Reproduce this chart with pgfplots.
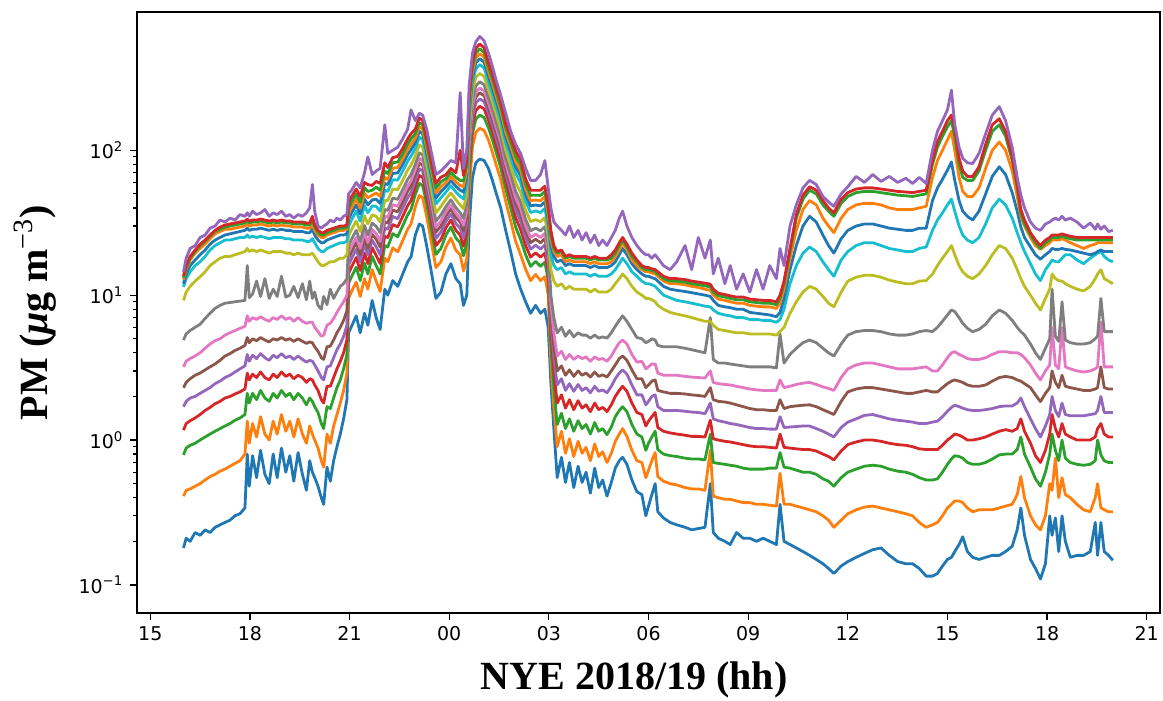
\documentclass[border=0pt]{standalone}
\usepackage{fontspec}
\setmainfont{Liberation Serif}
\newfontfamily\tickfont{DejaVu Sans}
\usepackage{pgfplots}
\usepackage{pgfplotstable}
\pgfplotsset{compat=1.18}

% tab10 colours
\definecolor{c0}{HTML}{1F77B4}
\definecolor{c1}{HTML}{FF7F0E}
\definecolor{c2}{HTML}{2CA02C}
\definecolor{c3}{HTML}{D62728}
\definecolor{c4}{HTML}{9467BD}
\definecolor{c5}{HTML}{8C564B}
\definecolor{c6}{HTML}{E377C2}
\definecolor{c7}{HTML}{7F7F7F}
\definecolor{c8}{HTML}{BCBD22}
\definecolor{c9}{HTML}{17BECF}

% t = hours since 00:00 on 31 Dec (24 = midnight)
\pgfplotstableread{
t A B C D E F G H I J K L M N O
16.00 0.18 0.41 0.79 1.17 1.7 2.3 3.2 4.9 9.2 11.4 12 12.8 13.2 13.6 14.5
16.08 0.21 0.45 0.88 1.3 1.85 2.5 3.5 5.4 10.5 13 14 15 15.5 16 18
16.20 0.20 0.46 0.92 1.36 1.95 2.65 3.65 5.7 11.5 14.5 16 17.5 18 18.5 21
16.35 0.23 0.48 0.95 1.42 2.0 2.8 3.8 6.0 12.5 16 17.5 19.5 20 20.5 22
16.50 0.22 0.50 1.0 1.5 2.1 2.9 4.0 6.3 13.4 17 19 21 22 22.5 25
16.65 0.24 0.53 1.05 1.6 2.2 3.05 4.3 6.9 14.5 18.5 20.5 22.5 23.5 24 26
16.80 0.23 0.56 1.1 1.68 2.3 3.2 4.6 7.5 16 20.5 22.5 24.5 25.5 26 29
16.95 0.25 0.58 1.15 1.78 2.45 3.35 4.85 8.1 17 22 24 26.5 27.5 28 30
17.10 0.26 0.61 1.2 1.85 2.55 3.55 5.0 8.5 18 23 25 27.5 28.5 29.5 33
17.25 0.27 0.63 1.25 1.95 2.7 3.8 5.3 8.8 18.5 24 26 28.5 29.5 30.5 32
17.40 0.28 0.66 1.3 2.0 2.8 3.95 5.5 8.9 18.5 24 26.5 28.5 30 31 34
17.55 0.30 0.69 1.37 2.08 2.95 4.15 5.7 9.0 19 24.5 27 29 30.5 31.5 33
17.70 0.31 0.72 1.42 2.15 3.1 4.3 5.9 9.1 19.5 25 27.5 29.5 31 32 36
17.85 0.34 0.80 1.5 2.25 3.25 4.5 6.1 9.2 20 25 28 30 31.5 32.5 35
17.92 0.80 1.35 2.1 2.9 3.9 5.1 7.2 16 21 26 29 31 32.5 33.5 37
17.98 0.48 0.95 1.8 2.6 3.5 4.7 6.6 9.6 20 25 28 30 31.5 32.5 35
18.08 0.78 1.3 2.1 2.85 3.85 5.0 7.0 10.2 20.5 25.5 28.5 30.5 32 33 38
18.20 0.55 1.05 1.9 2.7 3.65 4.85 6.8 12.5 20 25 28.5 30.5 32 33 36
18.32 0.85 1.45 2.2 2.95 3.95 5.1 7.1 9.8 20.5 25.5 29 31 32.5 33.5 37
18.45 0.58 1.1 1.95 2.7 3.7 4.9 6.8 13 20 25 28.5 30.5 32 33 39
18.58 0.50 1.0 1.85 2.6 3.55 4.75 6.6 9.5 19.5 24.5 28 30 31.5 32.5 35
18.70 0.80 1.35 2.1 2.85 3.85 5.0 7.0 11 20 25 28.5 30.5 32 33 37
18.82 0.55 1.1 1.95 2.7 3.7 4.9 6.8 9.8 20 25 28 30 31.5 32.5 36
18.95 0.88 1.5 2.2 2.95 3.95 5.1 7.2 13.5 20 25 28.5 30.5 32 33 38
19.08 0.60 1.15 2.0 2.75 3.7 4.9 6.8 9.7 19.5 24.5 28 30 31.5 32.5 35
19.20 0.78 1.35 2.1 2.85 3.8 5.0 7.0 10 19.5 24.5 28 30 31.5 32.5 36
19.32 0.52 1.05 1.9 2.65 3.6 4.8 6.6 11.5 19 24 27.5 29.5 31 32 34
19.45 0.82 1.4 2.1 2.8 3.8 5.0 7.0 9.6 19.5 24 27.5 29.5 31 32 36
19.58 0.58 1.1 1.95 2.7 3.6 4.8 6.6 12 19 24 27.5 29.5 31 32 35
19.70 0.45 0.95 1.75 2.5 3.45 4.65 6.4 9.3 19 23.5 27 29 30.5 31.5 37
19.80 0.72 1.25 1.95 2.65 3.55 4.75 6.5 12.5 19 23.5 27 29 30.5 31.5 40
19.88 0.60 1.1 1.85 2.6 3.5 4.7 6.5 9.5 19.5 24.5 28.5 31 33 35 58
19.95 0.55 1.0 1.7 2.4 3.3 4.4 6.0 10.5 18.5 23 26 28 29.5 30.5 38
20.05 0.48 0.88 1.55 2.2 3.0 4.1 5.6 8.5 17 21 24 26 27 28 30
20.15 0.40 0.72 1.3 1.9 2.7 3.7 5.2 8.0 16 20 23 25 26 27 29
20.22 0.36 0.65 1.2 1.8 2.6 3.6 5.3 9.8 16 20 23 25 26 27 30
20.32 0.65 1.1 1.7 2.35 3.2 4.4 6.2 8.6 16.5 21 24 26 27 28 31
20.42 0.52 0.95 1.65 2.35 3.25 4.45 6.4 11 17 21.5 24.5 26.5 27.5 28.5 33
20.52 0.72 1.25 1.95 2.7 3.7 4.9 6.9 9.5 17 22 25 27 28 29 32
20.62 0.90 1.5 2.3 3.1 4.2 5.5 7.6 10.5 17.5 22.5 25.5 27.5 28.5 29.5 34
20.72 1.1 1.8 2.6 3.5 4.6 6.0 8.3 11.5 18 23 26 28 29 30 33
20.82 1.4 2.2 3.1 4.0 5.2 6.7 9.0 12 18 23 26 28 29 30 35
20.92 1.9 2.9 3.9 4.9 6.2 7.8 10 13 19 23.5 26.5 28.5 29.5 30.5 36
20.97 5.5 9.5 12.1 14.1 16.1 18 19.6 22 25.6 29.9 33.3 36.4 39.7 43.3 50
21.06 6.1 10.6 13.4 15.7 17.9 19.9 21.8 24.3 28.4 33.1 37 40.3 44 48 53
21.20 7.2 12.3 15.6 18.2 20.7 23 25 28 32.5 38 42 46 50 54 60
21.32 5.5 9.8 12.6 14.8 17 19 21 23.5 27.5 32.4 36.4 39.8 43.7 47.9 55
21.45 7.5 13 16.6 19.5 22.3 24.8 27.2 30.3 35.3 41.5 46 50.5 55 60 70
21.55 6.2 11 14 16.5 19 21 23 26 31 37 42 47 52 58 90
21.68 9.2 15 18.5 21.3 23.9 26.3 28.4 31.4 35.9 41.2 45.4 49 53 57.2 68
21.80 7.0 12.5 16 18.8 21.6 24.3 26.6 29.9 35 41 46 50.7 55.6 61 72
21.92 5.8 10.6 14 16.5 19 21.5 23.5 27 32 38 43 48 53 59 75
22.06 11 18 22 25.5 29 32 35 39 45 53 59 65 72 82 150
22.15 10 17 21.5 25 28.5 31.5 34.5 38.5 45 52 58 63 69 76 95
22.30 12.6 21.2 26.6 30.7 34.9 38.7 42.1 46.7 54 62.5 69.3 75.3 82 89 100
22.45 11.5 19.9 25.3 29.6 33.7 37.6 41 45.9 53.5 62.4 69.7 76 83 90.6 105
22.60 14 23.8 30.1 35 39.8 44.2 48.2 53.5 62 72 80 87 94.5 103 120
22.75 17 28.6 35.9 41.5 47.1 52.2 56.8 63 73 84.3 93.5 101.7 110.5 120 140
22.85 18.4 31 39 45 51 56.5 61.5 68 79 91 101 110 120 130 190
22.98 26 40.8 49.7 56.2 62.4 68.4 73.6 80.3 91.3 103 113 121 130 140 160
23.10 31 48.7 59 67 74.4 81.5 87.7 95.8 109 123 135 145 155 167 180
23.20 30 47 57 65 72 79 85 93 105 119 130 140 150 161 175
23.32 22 35 43 48.5 54 59 63.5 69 78.5 89 97 104 112 120 140
23.45 15 24 29.5 34 38 41.5 45 49 56 64 70 75 80 86 100
23.60 9.5 15.5 19.1 22 24.7 27.2 29.4 32.4 37 42.6 46.8 50.6 54.7 59 68
23.75 10.5 17 21 24.2 27.3 30 32.4 35.8 41 47 51.8 56 60.5 65.3 72
23.90 14 21.5 26 29.2 32.3 35.2 37.7 40.8 46 51.5 56 59.7 63.5 67.7 78
24.05 16.5 24.8 29.5 33 36.3 39.4 41.9 45.5 50.8 57 61.7 65.8 70.3 74.9 85
24.20 13 20.4 24.8 28 31.2 34.2 36.8 40.2 45.6 51.6 56.5 60.7 65 70 82
24.33 12 19 23 26 29 32 34 37 42 48 53 57 62 100 250
24.43 8.5 14.7 18.7 21.8 24.9 27.8 30.3 33.9 39.5 46.2 51.5 56.2 61.4 67 75
24.53 10 17.8 22.9 26.9 30.9 34.7 38 42.7 50 59 66 72.4 79.4 87 100
24.60 30 52 66 77 88 98 107 120 140 163 182 198 216 236 280
24.70 65 106 131 150 169 186 201 222 254 291 320 346 374 404 470
24.80 82 133 164 188 212 233 252 278 318 365 401 434 468 505 560
24.92 87 142 175 201 226 249 269 297 339 390 429 464 501 541 610
25.05 85 137 168 193 217 238 257 283 323 370 406 439 473 510 570
25.18 75 118 143 162 180 197 212 232 263 298 326 350 376 403 470
25.30 62 97 118 134 149 163 175 192 218 246 270 290 311 334 380
25.42 50 78.5 95.5 108 120 131.5 141.5 154.5 175.5 198.5 217.5 233.5 250.5 269 300
25.55 40 63 76 86 96 105 113 124 140 159 174 187 200 215 240
25.70 28 44.5 54.5 61.5 68.5 75 80.5 88 100 113 124 133 143 153 180
25.85 20 32.6 40.2 46.2 52 57.2 61.8 68.2 78 89.6 98.6 106.6 115 124 135
26.00 14 23.5 29.5 34.2 38.8 43 46.8 52 60 69.4 77 83.7 91 98.8 110
26.15 11 19 24.2 28.3 32.2 36 39.3 43.9 51 59.7 66.7 72.7 79.4 86.7 95
26.30 9 15.1 19 22 24.9 27.6 30 33.4 38.6 44.6 49.5 53.8 58.5 63.5 75
26.45 7.5 12.6 15.8 18.3 20.8 23 25 27.8 32.2 37.2 41.3 44.9 48.8 53 62
26.60 8.5 13.9 17.1 19.6 22.1 24.3 26.3 29 33.2 38.1 41.9 45.3 49 52.9 62
26.75 7.5 12.6 15.8 18.3 20.8 23 25 27.8 32.2 37.2 41.3 44.9 48.8 53 68
26.88 8 13.4 16.9 19.5 22.2 24.6 26.7 29.7 34.3 39.7 44 47.8 52 56.5 85
26.98 6 10.1 12.7 14.6 16.6 18.4 20 22.3 25.7 29.8 33 35.9 39 42.4 55
27.06 2.5 3.5 4.5 5.5 6.5 7.5 8.5 10 15 19 22 24 26 28 40
27.15 1.2 1.7 2.3 3.0 3.7 4.5 5.5 7.0 12.5 16 18.5 20 21 22 32
27.25 0.55 0.9 1.28 1.8 2.4 3.0 3.8 5.5 11.5 15 17 18.5 19.5 20 30
27.38 0.76 1.15 1.53 2.05 2.65 3.25 4.1 6.0 12 15.5 17.5 19 20 20.5 28
27.50 0.51 0.81 1.2 1.66 2.2 2.8 3.6 5.2 11 14 16 17 18 18.5 26
27.62 0.70 1.02 1.4 1.9 2.45 3.05 3.9 5.7 11.5 14.5 16.5 17.5 18.5 19 30
27.75 0.47 0.77 1.15 1.62 2.17 2.75 3.6 5.15 11 14 16 17 18 18.5 25
27.88 0.66 0.98 1.36 1.87 2.42 3.0 3.8 5.5 11 14 16 17 18 18.5 28
28.00 0.51 0.81 1.2 1.66 2.2 2.8 3.65 5.3 11 14 16 17 18 18.5 24
28.12 0.60 0.89 1.28 1.75 2.3 2.9 3.75 5.3 11 14 16 17 18 18.5 27
28.25 0.43 0.72 1.1 1.57 2.12 2.72 3.5 5.05 10.5 13.5 15.5 16.5 17.5 18 23
28.38 0.64 0.94 1.32 1.8 2.35 2.95 3.75 5.3 11 14 16 17 18 18.5 26
28.50 0.47 0.77 1.15 1.62 2.17 2.75 3.6 5.05 10.5 13.5 15.5 16.5 17.5 18 22
28.62 0.53 0.83 1.2 1.68 2.22 2.82 3.65 5.15 10.5 13.5 15.5 16.5 17.5 18 24
28.75 0.41 0.70 1.09 1.57 2.12 2.72 3.5 5.05 10.5 13.5 15.5 16.5 17.5 18 22
28.88 0.51 0.81 1.23 1.75 2.35 3.0 3.8 5.5 11 14 16 17 18 19 25
29.00 0.64 0.98 1.45 2.0 2.65 3.3 4.25 6.1 12 15 17 18.5 19.5 20.5 28
29.12 0.72 1.1 1.6 2.2 2.9 3.65 4.7 6.7 13 16.5 19 20.5 22 23 34
29.22 0.76 1.2 1.7 2.35 3.05 3.8 4.9 7.2 14 18 21 23 24 25 38
29.35 0.68 1.06 1.57 2.17 2.85 3.55 4.6 6.6 13 16.5 19 20.5 21.5 22.5 30
29.50 0.53 0.85 1.28 1.8 2.4 3.05 3.9 5.8 11.5 14.5 16.5 17.5 18.5 19.5 25
29.65 0.44 0.72 1.1 1.55 2.05 2.65 3.45 5.1 10.5 13.5 15 16 17 17.5 22
29.80 0.42 0.7 1.05 1.5 2.05 2.65 3.5 5.0 10 12.5 14 15 15.5 16 20
29.92 0.3 0.55 0.85 1.25 1.75 2.3 3.1 4.7 9.5 12 13.5 14.5 15 15.5 19
30.00 0.35 0.62 0.95 1.35 1.85 2.4 3.2 4.8 9.5 12 13.5 14.5 15 15.5 19
30.10 0.42 0.72 1.05 1.45 2.0 2.55 3.35 5.0 9.3 11.8 13.2 14.2 14.8 15.2 18
30.20 0.5 0.82 1.15 1.55 2.05 2.6 3.35 4.9 9 11.5 13 14 14.5 15 19
30.28 0.32 0.56 0.86 1.22 1.7 2.2 2.9 4.5 8.5 11 12.5 13.5 14 14.5 18
30.45 0.29 0.52 0.8 1.15 1.6 2.15 2.8 4.4 8.0 10 11.5 12.5 13 13.5 16
30.65 0.27 0.5 0.78 1.12 1.6 2.1 2.8 4.4 7.6 9.6 11 12 12.5 13 15
30.85 0.26 0.49 0.77 1.1 1.6 2.1 2.8 4.4 7.4 9.2 10.8 12 12.5 13 17
31.10 0.25 0.47 0.75 1.08 1.58 2.08 2.75 4.3 7.2 9.0 10.6 11.8 12.3 12.8 22
31.30 0.24 0.46 0.74 1.06 1.56 2.05 2.72 4.2 7.0 8.8 10.4 11.5 12 12.5 15
31.50 0.245 0.46 0.74 1.06 1.55 2.03 2.7 4.1 6.8 8.6 10.2 11.3 11.8 12.3 25
31.70 0.25 0.45 0.73 1.05 1.52 2.0 2.68 4.0 6.6 8.4 10 11 11.6 12.1 18
31.86 0.5 0.85 1.1 1.37 1.8 2.3 3.0 7.0 6.6 8.3 9.8 10.8 11.4 11.9 24
31.95 0.23 0.41 0.7 1.02 1.4 1.9 2.5 3.6 6.2 7.9 9.2 10 10.5 11 14
32.10 0.21 0.40 0.69 1.0 1.36 1.85 2.45 3.4 5.8 7.5 8.5 9.4 9.9 10.3 18
32.30 0.20 0.39 0.68 0.98 1.33 1.83 2.42 3.4 5.7 7.3 8.3 9.2 9.7 10.1 12
32.46 0.19 0.39 0.67 0.97 1.3 1.8 2.4 3.35 5.6 7.2 8.2 9.0 9.5 9.9 16
32.65 0.23 0.38 0.66 0.95 1.28 1.75 2.35 3.3 5.5 7.0 8.0 8.8 9.3 9.7 11
32.85 0.21 0.37 0.64 0.93 1.25 1.7 2.3 3.25 5.5 7.0 8.0 8.8 9.3 9.7 14
33.05 0.21 0.37 0.63 0.91 1.22 1.65 2.25 3.2 5.4 6.8 7.6 8.5 9.0 9.4 10.5
33.25 0.20 0.36 0.63 0.9 1.2 1.62 2.22 3.2 5.4 6.8 7.5 8.4 8.9 9.3 15
33.45 0.21 0.36 0.63 0.9 1.2 1.62 2.2 3.2 5.4 6.7 7.4 8.3 8.8 9.2 11
33.65 0.20 0.355 0.64 0.89 1.19 1.6 2.2 3.2 5.4 6.7 7.3 8.3 8.8 9.2 16
33.85 0.19 0.35 0.64 0.88 1.19 1.6 2.2 3.15 5.3 6.5 7.1 8.1 8.6 9.0 13
33.96 0.36 0.59 0.82 1.1 1.45 1.9 2.6 5.4 5.6 6.8 7.6 8.8 9.5 10 21
34.08 0.20 0.36 0.65 0.89 1.22 1.65 2.3 3.4 6.0 8.0 9.5 11 12 12.5 16
34.26 0.19 0.36 0.64 0.88 1.23 1.7 2.35 3.9 7.5 12 15 18 20 21 30
34.45 0.18 0.35 0.62 0.87 1.24 1.72 2.42 4.3 9.0 16 22 28 34 36 42
34.65 0.17 0.34 0.60 0.86 1.25 1.74 2.47 4.7 10.5 19.5 30 39 46 49 55
34.85 0.16 0.33 0.60 0.86 1.25 1.75 2.5 4.9 11.5 21.5 35 45 53 56 62
35.05 0.15 0.32 0.58 0.84 1.2 1.7 2.42 4.7 11 20 32 42 50 53 58
35.25 0.14 0.30 0.54 0.8 1.15 1.62 2.33 4.3 9.8 17 26 34 42 45 48
35.42 0.13 0.28 0.52 0.77 1.1 1.56 2.27 4.0 8.8 15 22 30 38 40 44
35.58 0.12 0.25 0.48 0.73 1.05 1.5 2.2 3.8 8.3 13.5 19.5 27 35 37 41
35.80 0.135 0.28 0.55 0.84 1.22 1.85 2.7 4.6 10.5 17.5 24.5 34 43 46 50
36.00 0.145 0.31 0.60 0.93 1.33 2.15 3.1 5.3 12.5 20 28 39 48 51 56
36.25 0.155 0.33 0.63 0.97 1.4 2.25 3.3 5.6 13.3 22 30 42 51 54 66
36.50 0.165 0.345 0.66 1.0 1.48 2.3 3.4 5.7 13.7 23 31 43 52 55 60
36.75 0.175 0.35 0.67 1.0 1.5 2.3 3.4 5.7 13.7 23 31 43 52 55 68
37.00 0.18 0.34 0.66 0.98 1.45 2.25 3.3 5.6 13.3 22 30 42 51 54 61
37.25 0.16 0.33 0.63 0.95 1.4 2.2 3.2 5.4 12.7 21 29 40 50 53 66
37.50 0.145 0.32 0.61 0.93 1.37 2.15 3.1 5.3 12.3 20.5 28.5 39 49 52 60
37.75 0.14 0.31 0.60 0.92 1.35 2.1 3.1 5.3 12 20 28 39 48.5 51.5 64
37.95 0.14 0.30 0.58 0.9 1.33 2.1 3.1 5.4 12 20 28 39 48 51 59
38.15 0.13 0.27 0.55 0.87 1.3 2.15 3.15 5.6 12.5 21 29 40 49 52 65
38.36 0.115 0.25 0.53 0.86 1.3 2.2 3.2 5.7 12.6 21.5 29 41 50 53 59
38.55 0.115 0.26 0.53 0.86 1.33 2.15 3.0 5.6 14 28 45 65 80 85 100
38.70 0.12 0.27 0.54 0.86 1.35 2.15 3.0 6.0 16 33 55 85 105 115 135
38.85 0.135 0.30 0.60 0.92 1.45 2.3 3.3 6.6 18 37 63 100 125 135 160
39.00 0.15 0.34 0.68 1.0 1.58 2.45 3.7 7.3 20 42 73 118 145 160 190
39.12 0.155 0.36 0.74 1.05 1.68 2.55 4.0 7.9 22 46 83 135 160 175 260
39.22 0.17 0.38 0.78 1.1 1.74 2.6 4.07 7.7 19 38 62 100 125 140 150
39.35 0.19 0.38 0.77 1.08 1.7 2.55 3.9 7.0 16 30 45 65 80 88 105
39.46 0.215 0.37 0.75 1.05 1.66 2.5 3.8 6.4 14.5 26 38 52 65 72 88
39.60 0.17 0.34 0.70 1.0 1.62 2.4 3.65 5.9 13.5 24 35 48 62 66 82
39.76 0.155 0.32 0.68 1.0 1.6 2.35 3.6 5.6 13 23 33 48 62 66 81
39.95 0.15 0.33 0.68 1.02 1.6 2.35 3.6 5.8 14 25 38 55 72 77 95
40.15 0.155 0.33 0.70 1.05 1.62 2.4 3.7 6.3 16 31 50 75 100 110 130
40.35 0.16 0.33 0.74 1.1 1.65 2.55 3.9 7.2 19 40 66 100 135 150 175
40.56 0.16 0.34 0.79 1.15 1.7 2.7 4.07 7.9 22 46 77 114 150 165 200
40.75 0.17 0.35 0.80 1.18 1.72 2.75 4.07 7.5 21 42 68 100 125 135 160
40.95 0.185 0.36 0.80 1.15 1.72 2.7 4.0 6.7 18 34 51 72 85 90 105
41.10 0.24 0.42 0.86 1.2 1.8 2.6 4.0 6.0 15 27 38 48 55 58 65
41.21 0.34 0.56 1.05 1.4 1.95 2.55 3.9 5.6 13 23 29.5 35 37 39 49
41.32 0.22 0.40 0.80 1.15 1.7 2.45 3.7 5.3 11.5 20 25 30 31 33 40
41.50 0.15 0.30 0.65 0.95 1.4 2.3 3.3 4.6 10 16.5 21.5 25 26 27 32
41.65 0.13 0.26 0.54 0.78 1.2 2.05 2.9 4.0 8.8 14 19 22 23 24 29
41.80 0.11 0.24 0.48 0.7 1.05 1.84 2.6 3.6 7.9 12.6 17.7 20.7 21 22 28
41.95 0.14 0.30 0.60 0.85 1.25 2.1 3.0 4.3 9.5 15 19 22 23 24 31
42.08 0.30 0.50 0.80 1.1 1.5 2.3 3.3 5.0 11 16.5 20 23 24 25 32
42.15 0.22 0.45 1.1 1.5 2.0 3.0 6.0 11 14 17.5 21 24 25 26 33
42.25 0.29 0.75 0.85 1.2 1.6 2.5 3.3 5.2 13 17 20.7 24 25 26 34
42.35 0.17 0.40 0.72 1.05 1.45 2.3 3.1 4.8 12.6 17 20.7 24 25 26 33
42.45 0.30 0.55 1.0 1.3 1.8 2.8 6.0 9.0 12.5 18 21 24.5 25.5 26.5 35
42.55 0.20 0.42 0.75 1.1 1.5 2.35 3.2 4.9 12 19 20.7 24 25 26 33
42.70 0.155 0.40 0.70 1.05 1.47 2.3 3.1 4.7 11.5 19 20.5 23 24.5 25.5 34
42.90 0.16 0.36 0.68 1.0 1.47 2.25 3.0 4.6 11 17.5 20 22 24 25 32
43.10 0.16 0.33 0.67 1.0 1.47 2.2 2.95 4.6 10.7 16.5 19.5 21 24 25 29
43.30 0.17 0.32 0.68 1.0 1.5 2.2 3.0 4.7 11.5 18 19 22 24 25 31.5
43.45 0.27 0.40 0.72 1.05 1.52 2.25 3.1 5.0 13 19 19.5 22.5 24 25 28.5
43.52 0.16 0.50 1.0 1.2 1.6 2.3 3.2 5.2 14 19.5 20 23 24 25 31
43.62 0.27 0.34 0.79 1.3 2.0 3.2 6.5 9.5 15 20 20.5 23 24 25 28.5
43.72 0.17 0.33 0.72 1.1 1.55 2.3 3.2 5.6 13 18.5 20 23 24 25 30
43.85 0.16 0.32 0.70 1.05 1.55 2.25 3.2 5.6 12.5 17.5 20 23 24 25 27.5
43.98 0.148 0.32 0.70 1.05 1.55 2.25 3.2 5.6 12 17 20 23 24 25 28
}\pmdata

\begin{document}
\begin{tikzpicture}
\begin{axis}[
    scale only axis, width=511.5pt, height=300.5pt,
    ymode=log,
    xmin=14.6, xmax=45.4, ymin=0.064, ymax=900,
    xtick={15,18,...,45},
    xticklabels={15,18,21,00,03,06,09,12,15,18,21},
    ytick={0.1,1,10,100},
    yticklabels={10\textsuperscript{−1},10\textsuperscript{0},10\textsuperscript{1},10\textsuperscript{2}},
    tick align=outside, tick pos=left,
    major tick length=3.3pt, minor tick length=1.9pt,
    every tick/.style={black, line width=0.6pt},
    axis line style={line width=0.75pt},
    ticklabel style={font=\tickfont\fontsize{9.5}{11}\selectfont},
    xlabel={\bfseries NYE 2018/19 (hh)},
    ylabel={\bfseries PM ({\itshape μ}g m{\mdseries\textsuperscript{−3}})},
    label style={font=\fontsize{20}{24}\selectfont},
    xlabel style={at={(axis description cs:0.486,-0.111)}, anchor=center},
    ylabel style={at={(axis description cs:-0.1,0.5)}, anchor=center},
    no markers,
    every axis plot/.append style={line width=1.4pt, line join=round},
]
\addplot[c0] table[x=t, y=A] {\pmdata};
\addplot[c1] table[x=t, y=B] {\pmdata};
\addplot[c2] table[x=t, y=C] {\pmdata};
\addplot[c3] table[x=t, y=D] {\pmdata};
\addplot[c4] table[x=t, y=E] {\pmdata};
\addplot[c5] table[x=t, y=F] {\pmdata};
\addplot[c6] table[x=t, y=G] {\pmdata};
\addplot[c7] table[x=t, y=H] {\pmdata};
\addplot[c8] table[x=t, y=I] {\pmdata};
\addplot[c9] table[x=t, y=J] {\pmdata};
\addplot[c0] table[x=t, y=K] {\pmdata};
\addplot[c1] table[x=t, y=L] {\pmdata};
\addplot[c2] table[x=t, y=M] {\pmdata};
\addplot[c3] table[x=t, y=N] {\pmdata};
\addplot[c4] table[x=t, y=O] {\pmdata};
\end{axis}
\pgfresetboundingbox
\path ([xshift=-68.5pt,yshift=-43.5pt]current axis.south west)
  rectangle ([xshift=1.5pt,yshift=6pt]current axis.north east);
\end{tikzpicture}
\end{document}
